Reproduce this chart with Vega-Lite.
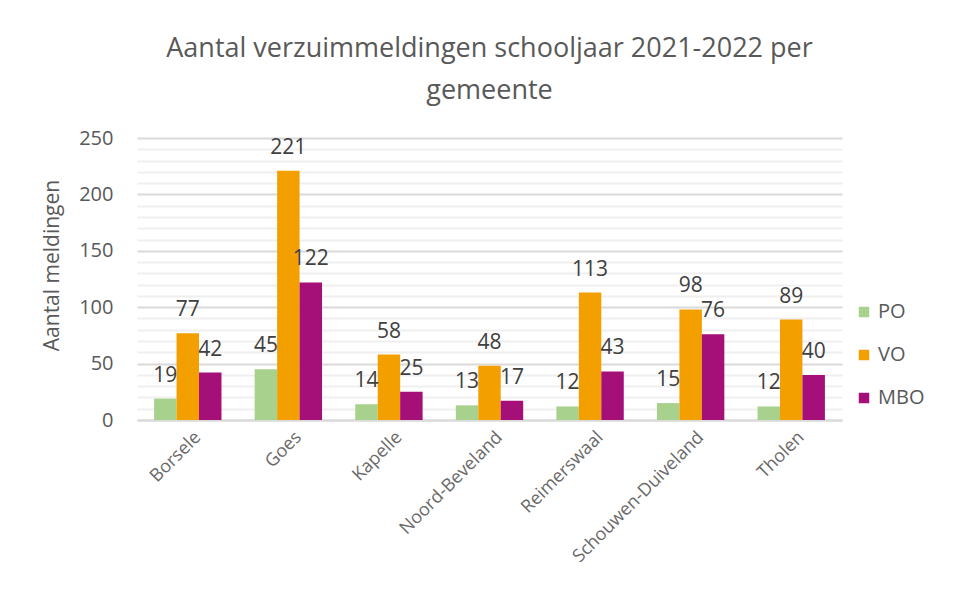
{
  "$schema": "https://vega.github.io/schema/vega-lite/v6.json",
  "width": 705,
  "height": 282,
  "autosize": "none",
  "padding": {"left": 137, "top": 138, "right": 115, "bottom": 170},
  "background": "white",
  "config": {
    "font": "Open Sans",
    "view": {"stroke": null},
    "text": {"font": "Open Sans"}
  },
  "title": {
    "text": ["Aantal verzuimmeldingen schooljaar 2021-2022 per", "gemeente"],
    "fontSize": 27,
    "fontWeight": "normal",
    "color": "#595959",
    "font": "Open Sans",
    "anchor": "middle",
    "lineHeight": 42,
    "offset": 23
  },
  "data": {
    "values": [
      {"gemeente": "Borsele", "type": "PO", "value": 19},
      {"gemeente": "Borsele", "type": "VO", "value": 77},
      {"gemeente": "Borsele", "type": "MBO", "value": 42},
      {"gemeente": "Goes", "type": "PO", "value": 45},
      {"gemeente": "Goes", "type": "VO", "value": 221},
      {"gemeente": "Goes", "type": "MBO", "value": 122},
      {"gemeente": "Kapelle", "type": "PO", "value": 14},
      {"gemeente": "Kapelle", "type": "VO", "value": 58},
      {"gemeente": "Kapelle", "type": "MBO", "value": 25},
      {"gemeente": "Noord-Beveland", "type": "PO", "value": 13},
      {"gemeente": "Noord-Beveland", "type": "VO", "value": 48},
      {"gemeente": "Noord-Beveland", "type": "MBO", "value": 17},
      {"gemeente": "Reimerswaal", "type": "PO", "value": 12},
      {"gemeente": "Reimerswaal", "type": "VO", "value": 113},
      {"gemeente": "Reimerswaal", "type": "MBO", "value": 43},
      {"gemeente": "Schouwen-Duiveland", "type": "PO", "value": 15},
      {"gemeente": "Schouwen-Duiveland", "type": "VO", "value": 98},
      {"gemeente": "Schouwen-Duiveland", "type": "MBO", "value": 76},
      {"gemeente": "Tholen", "type": "PO", "value": 12},
      {"gemeente": "Tholen", "type": "VO", "value": 89},
      {"gemeente": "Tholen", "type": "MBO", "value": 40}
    ]
  },
  "encoding": {
    "x": {
      "field": "gemeente",
      "type": "nominal",
      "sort": null,
      "scale": {"paddingInner": 0.33, "paddingOuter": 0.17},
      "axis": {
        "title": null,
        "labelAngle": -45,
        "labelFontSize": 18,
        "labelLimit": 400,
        "labelColor": "#6a6a6a",
        "labelFont": "Open Sans",
        "ticks": false,
        "domain": true,
        "domainColor": "#d9d9d9",
        "domainWidth": 2,
        "labelPadding": 8,
        "labelOffset": 4
      }
    },
    "xOffset": {"field": "type", "type": "nominal", "sort": ["PO", "VO", "MBO"]},
    "y": {
      "field": "value",
      "type": "quantitative",
      "scale": {"domain": [0, 250], "nice": false},
      "axis": {
        "title": "Aantal meldingen",
        "titleFontSize": 21,
        "titleFontWeight": "normal",
        "titleColor": "#595959",
        "titleFont": "Open Sans",
        "titlePadding": 16,
        "titleY": 127,
        "values": [0,10,20,30,40,50,60,70,80,90,100,110,120,130,140,150,160,170,180,190,200,210,220,230,240,250],
        "labelExpr": "datum.value % 50 === 0 ? datum.label : ''",
        "labelFontSize": 20,
        "labelColor": "#595959",
        "labelFont": "Open Sans",
        "labelPadding": 24,
        "ticks": false,
        "domain": false,
        "gridColor": {"condition": {"test": "datum.value % 50 === 0", "value": "#d9d9d9"}, "value": "#efefef"},
        "gridWidth": 2
      }
    }
  },
  "layer": [
    {
      "mark": {"type": "bar"},
      "encoding": {
        "color": {
          "field": "type",
          "type": "nominal",
          "sort": ["PO", "VO", "MBO"],
          "scale": {"domain": ["PO", "VO", "MBO"], "range": ["#a9d18e", "#f39f00", "#a50f78"]},
          "legend": {
            "title": null,
            "orient": "none",
            "legendX": 717,
            "legendY": 164,
            "symbolType": "square",
            "symbolSize": 110,
            "labelFontSize": 20,
            "labelColor": "#595959",
            "labelFont": "Open Sans",
            "rowPadding": 23,
            "labelOffset": 4
          }
        }
      }
    },
    {
      "mark": {"type": "text", "baseline": "middle", "dy": -23, "fontSize": 21, "color": "#404040", "font": "Open Sans"},
      "encoding": {
        "text": {"field": "value", "type": "quantitative"}
      }
    }
  ]
}
